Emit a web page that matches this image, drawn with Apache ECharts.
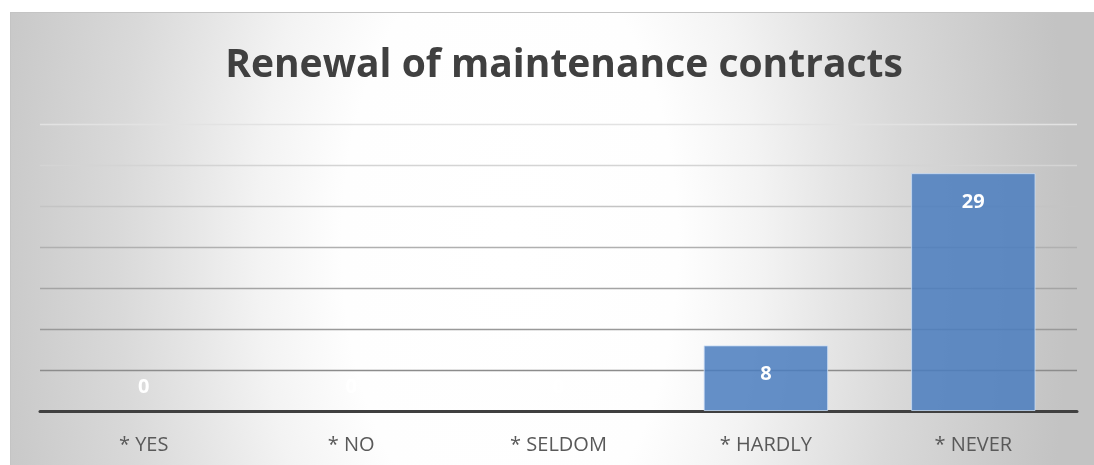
<!DOCTYPE html>
<html>
<head>
<meta charset="utf-8">
<script src="https://cdn.jsdelivr.net/npm/echarts@6/dist/echarts.min.js"></script>
<style>
  html, body { margin: 0; padding: 0; background: #ffffff; }
  #chart { position: absolute; left: 10px; top: 12px; width: 1084px; height: 453px; }
</style>
</head>
<body>
<div id="chart"></div>
<script>
const titleText = 'Renewal of maintenance contracts';
const categories = ['* YES', '* NO', '* SELDOM', '* HARDLY', '* NEVER'];
const values = [0, 0, 0, 8, 29];
const axisMin = 0, axisMax = 35, axisInterval = 5;

const chart = echarts.init(document.getElementById('chart'), null, { renderer: 'canvas' });

const seriesData = values.map(v => v === 0
  ? { value: v, itemStyle: { borderWidth: 0 }, label: { position: 'top', distance: 14 } }
  : { value: v });

const W = 1084, H = 453, SY = 1.8;

chart.setOption({
  animation: false,
  backgroundColor: 'transparent',
  title: {
    text: titleText,
    left: 549, textAlign: 'center', top: 29,
    textStyle: { fontFamily: 'Open Sans', fontWeight: 'bold', fontSize: 39, color: '#404040' }
  },
  graphic: [
    {
      type: 'rect', z: -100, silent: true, scaleY: SY,
      shape: { x: 0, y: 0, width: W, height: H / SY },
      style: {
        fill: {
          type: 'radial', global: true, x: 500, y: 232 / SY, r: 560,
          colorStops: [
            { offset: 0, color: '#ffffff' },
            { offset: 0.3, color: '#fefefe' },
            { offset: 0.45, color: '#f3f3f3' },
            { offset: 0.59, color: '#e4e4e4' },
            { offset: 0.7, color: '#d9d9d9' },
            { offset: 0.9, color: '#cacaca' },
            { offset: 1, color: '#c3c3c3' }
          ]
        }
      }
    },
    { type: 'line', z: 100, silent: true, shape: { x1: 0, y1: 0.5, x2: W, y2: 0.5 }, style: { stroke: '#c4c4c4', lineWidth: 1 } },
    { type: 'line', z: 100, silent: true, shape: { x1: 0.5, y1: 0, x2: 0.5, y2: H }, style: { stroke: '#c4c4c4', lineWidth: 1 } }
  ],
  grid: { left: 30, right: 17, top: 112, bottom: 54, containLabel: false },
  xAxis: {
    type: 'category',
    data: categories,
    axisLine: { show: true, lineStyle: { color: '#404040', width: 3 } },
    axisTick: { show: false },
    axisLabel: { margin: 24, fontFamily: 'Open Sans', fontSize: 20, color: '#595959' }
  },
  yAxis: {
    type: 'value', min: axisMin, max: axisMax, interval: axisInterval,
    axisLine: { show: false }, axisTick: { show: false }, axisLabel: { show: false },
    splitLine: { lineStyle: { width: 1.3, color: ['#8a8a8a', '#8c8c8c', '#999999', '#a4a4a4', '#b0b0b0', '#c4c4c4', '#d4d4d4', '#e2e2e2'] } }
  },
  series: [{
    type: 'bar',
    data: seriesData,
    barCategoryGap: '40%',
    itemStyle: { color: 'rgba(74,124,190,0.85)', borderColor: 'rgba(200,220,245,0.8)', borderWidth: 1 },
    label: {
      show: true, position: 'insideTop', distance: 19,
      fontFamily: 'Open Sans', fontWeight: 'bold', fontSize: 20, color: '#ffffff'
    },
    z: 1
  }]
});
</script>
</body>
</html>
